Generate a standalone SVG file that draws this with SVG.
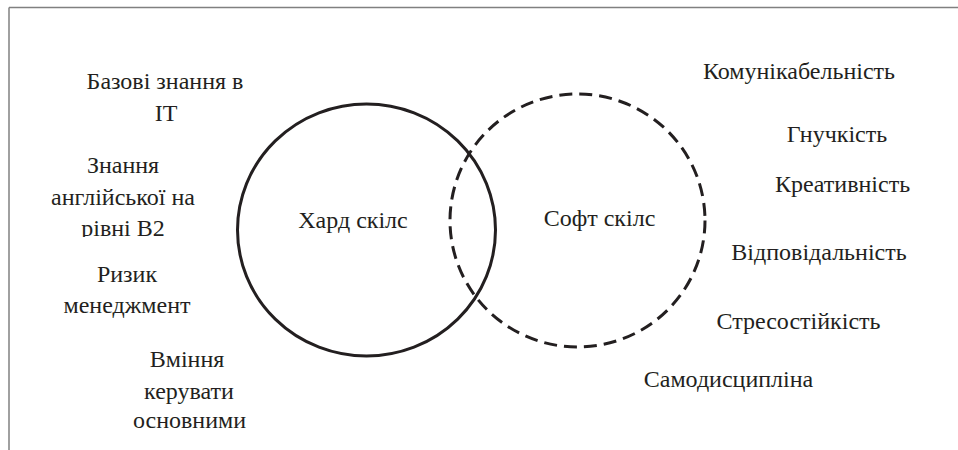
<svg xmlns="http://www.w3.org/2000/svg" width="958" height="450" viewBox="0 0 958 450">
<defs>
<style>
text{font-family:'Liberation Serif','DejaVu Serif',serif;font-size:24px;fill:#231f20;text-anchor:middle}
.frame{stroke:#808080;stroke-width:1.5;fill:none}
.hard{fill:none;stroke:#231f20;stroke-width:3}
.soft{fill:none;stroke:#231f20;stroke-width:3;stroke-dasharray:13 7}
</style>
<clipPath id="clipB2"><rect x="0" y="180" width="300" height="57"/></clipPath>
</defs>
<rect width="958" height="450" fill="#ffffff"/>
<g id="frame">
<line class="frame" x1="9" y1="7.5" x2="958" y2="7.5"/>
<line class="frame" x1="9" y1="7.5" x2="9" y2="450"/>
</g>
<g id="hard-skills">
<ellipse class="hard" cx="366.5" cy="230" rx="129" ry="126"/>
<text x="353" y="228">Хард скілс</text>
</g>
<g id="soft-skills">
<ellipse class="soft" cx="577.5" cy="220.5" rx="127.5" ry="126.5"/>
<text x="599.5" y="226">Софт скілс</text>
</g>
<g id="hard-items">
<text x="165" y="89">Базові знання в</text>
<text x="166" y="121">IT</text>
<text x="123" y="173">Знання</text>
<text x="123" y="205">англійської на</text>
<text x="123" y="236" clip-path="url(#clipB2)">рівні В2</text>
<text x="127" y="282">Ризик</text>
<text x="127" y="313">менеджмент</text>
<text x="187" y="367">Вміння</text>
<text x="189" y="399">керувати</text>
<text x="189.5" y="428">основними</text>
</g>
<g id="soft-items">
<text x="799" y="79">Комунікабельність</text>
<text x="837" y="142">Гнучкість</text>
<text x="842.5" y="192">Креативність</text>
<text x="819" y="260">Відповідальність</text>
<text x="798.5" y="329">Стресостійкість</text>
<text x="728.5" y="387">Самодисципліна</text>
</g>
<g id="connectors"></g>
</svg>
